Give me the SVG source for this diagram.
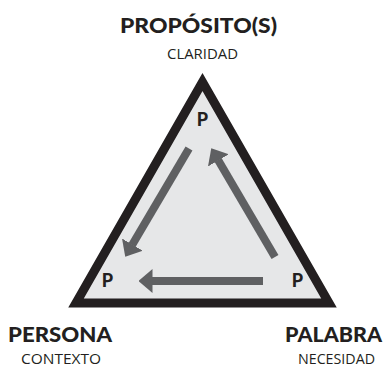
<svg xmlns="http://www.w3.org/2000/svg" width="386" height="370" viewBox="0 0 386 370">
  <style>
    .head { font-family: Lato, "Open Sans", "DejaVu Sans", sans-serif; font-weight: 900; fill: #231f20; }
    .sub { font-family: "Open Sans", "Liberation Sans", sans-serif; font-weight: 400; fill: #231f20; font-size: 15px; }
    .p { font-family: Lato, "Open Sans", sans-serif; font-weight: 900; fill: #231f20; font-size: 18px; }
    .arrow { stroke: #5f6062; stroke-width: 8; fill: none; stroke-linecap: butt; marker-end: url(#ah); }
  </style>
  <defs>
    <marker id="ah" markerUnits="userSpaceOnUse" viewBox="0 0 14 24" markerWidth="14" markerHeight="24" refX="0.5" refY="12" orient="auto">
      <path d="M0,0 L14,12 L0,24 z" fill="#5f6062"/>
    </marker>
  </defs>
  <rect width="386" height="370" fill="#ffffff"/>
  <g id="triangle">
    <polygon points="202.5,82 76,303 329,303" fill="#e6e7e8" stroke="#231f20" stroke-width="9" stroke-linejoin="miter" stroke-miterlimit="10"/>
  </g>
  <g id="connectors">
    <line class="arrow" x1="189" y1="148.5" x2="132.1" y2="245"/>
    <line class="arrow" x1="263" y1="281" x2="152" y2="281"/>
    <line class="arrow" x1="275" y1="257" x2="218.1" y2="160"/>
  </g>
  <g id="node-proposito">
    <text class="head" x="198.5" y="33" font-size="21" text-anchor="middle" textLength="157" lengthAdjust="spacingAndGlyphs">PROPÓSITO(S)</text>
    <text class="sub" x="202.5" y="59" text-anchor="middle" textLength="71" lengthAdjust="spacingAndGlyphs">CLARIDAD</text>
    <text class="p" x="202.5" y="126" text-anchor="middle">P</text>
  </g>
  <g id="node-persona">
    <text class="head" x="60" y="342" font-size="20" text-anchor="middle" textLength="104" lengthAdjust="spacingAndGlyphs">PERSONA</text>
    <text class="sub" x="61" y="364" text-anchor="middle" textLength="80" lengthAdjust="spacingAndGlyphs">CONTEXTO</text>
    <text class="p" x="107.5" y="287" text-anchor="middle">P</text>
  </g>
  <g id="node-palabra">
    <text class="head" x="333.5" y="342" font-size="20" text-anchor="middle" textLength="97" lengthAdjust="spacingAndGlyphs">PALABRA</text>
    <text class="sub" x="336.5" y="364" text-anchor="middle" textLength="77" lengthAdjust="spacingAndGlyphs">NECESIDAD</text>
    <text class="p" x="297.5" y="287" text-anchor="middle">P</text>
  </g>
</svg>
